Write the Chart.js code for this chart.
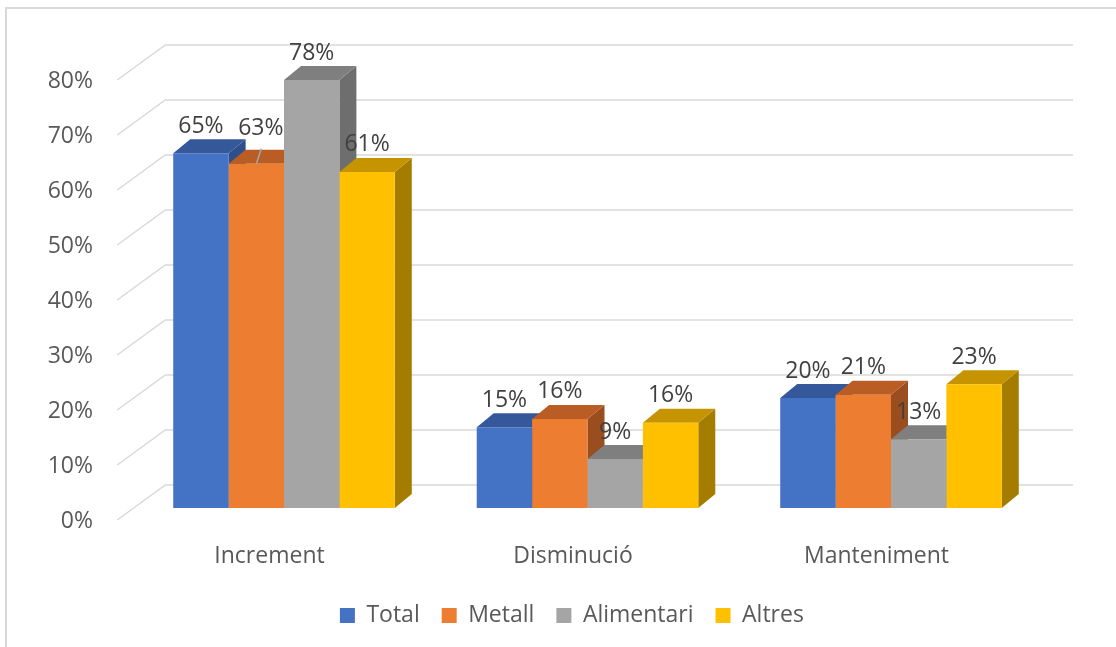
<!DOCTYPE html>
<html>
<head>
<meta charset="utf-8">
<script src="https://cdn.jsdelivr.net/npm/chart.js@4/dist/chart.umd.min.js"></script>
<style>
    html, body { margin: 0; padding: 0; background: #ffffff; overflow: hidden; }
    #marc { position: absolute; left: 5px; top: 7px; width: 1200px; height: 700px; border: 2px solid #d9d9d9; box-sizing: border-box; }
    #caixa { position: absolute; left: 0; top: 0; width: 1116px; height: 647px; }
</style>
</head>
<body>
<div id="marc"></div>
<div id="caixa"><canvas id="graficDemanda"></canvas></div>
<script>
// Dades llegides del gràfic
const categories = ['Increment', 'Disminució', 'Manteniment'];
const sectors = ['Total', 'Metall', 'Alimentari', 'Altres'];
const valorsTotal = [64.5, 14.7, 20.0];
const valorsMetall = [62.6, 16.2, 20.6];
const valorsAlimentari = [77.8, 8.9, 12.5];
const valorsAltres = [61.1, 15.5, 22.5];
const ticksY = [0, 10, 20, 30, 40, 50, 60, 70, 80];

// colors: cara frontal, cara superior, cara lateral
const colors = [
    ['#4472c4', '#34589a', '#2e4f8a'],
    ['#ed7d31', '#b95d24', '#9a4e1f'],
    ['#a5a5a5', '#7f7f7f', '#6e6e6e'],
    ['#ffc000', '#c59400', '#a47c00']
];
const fons = { dx: 17, dy: 14 };       // profunditat de les barres
const paret = { dx: 48, dy: 35 };      // profunditat de la graella
const labelNudge = { '1:0': [4.5, -8.5] };

const valors = [valorsTotal, valorsMetall, valorsAlimentari, valorsAltres];

// graella en perspectiva + cares 3D de les barres
const tresD = {
    id: 'tresD',
    afterLayout(chart) {
        // la llegenda queda centrada sobre la zona del gràfic
        chart.legend.left = 101;
    },
    beforeDatasetsDraw(chart) {
        const ctx = chart.ctx;
        const y = chart.scales.y;
        const area = chart.chartArea;
        ctx.save();
        ctx.strokeStyle = '#d9d9d9';
        ctx.lineWidth = 1.5;
        ticksY.forEach(v => {
            const py = y.getPixelForValue(v);
            const x0 = area.left - 15;
            ctx.beginPath();
            ctx.moveTo(x0, py + 12);
            ctx.lineTo(x0 + paret.dx, py + 12 - paret.dy);
            ctx.lineTo(1073, py + 12 - paret.dy);
            ctx.stroke();
        });

        // d'esquerra a dreta: lateral i superior
        for (let j = 0; j < categories.length; j++) {
            for (let i = 0; i < valors.length; i++) {
                const bar = chart.getDatasetMeta(i).data[j];
                const l = bar.x - bar.width / 2;
                const r = bar.x + bar.width / 2;
                const t = bar.y;
                const b = bar.base;
                ctx.fillStyle = colors[i][2];
                ctx.beginPath();
                ctx.moveTo(r, t);
                ctx.lineTo(r + fons.dx, t - fons.dy);
                ctx.lineTo(r + fons.dx, b - fons.dy);
                ctx.lineTo(r, b);
                ctx.closePath();
                ctx.fill();
                ctx.fillStyle = colors[i][1];
                ctx.beginPath();
                ctx.moveTo(l, t);
                ctx.lineTo(l + fons.dx, t - fons.dy);
                ctx.lineTo(r + fons.dx, t - fons.dy);
                ctx.lineTo(r, t);
                ctx.closePath();
                ctx.fill();
            }
        }
        ctx.restore();
    },
    afterDatasetsDraw(chart) {
        const ctx = chart.ctx;
        ctx.save();
        ctx.font = '23px "Open Sans"';
        ctx.fillStyle = '#404040';
        ctx.textAlign = 'center';
        ctx.textBaseline = 'middle';
        for (let i = 0; i < valors.length; i++) {
            chart.getDatasetMeta(i).data.forEach((bar, j) => {
                const n = labelNudge[i + ':' + j] || [0, 0];
                if (labelNudge[i + ':' + j]) {
                    ctx.strokeStyle = '#a6a6a6';
                    ctx.lineWidth = 1.5;
                    ctx.beginPath();
                    ctx.moveTo(bar.x, bar.y);
                    ctx.lineTo(bar.x + 5, bar.y - 15);
                    ctx.stroke();
                }
                ctx.fillText(Math.round(valors[i][j]) + '%', bar.x + n[0], bar.y - 27 + n[1]);
            });
        }
        ctx.restore();
    }
};

new Chart(document.getElementById('graficDemanda'), {
    type: 'bar',
    data: {
        labels: categories,
        datasets: sectors.map((nom, i) => ({
            label: nom,
            data: valors[i],
            backgroundColor: colors[i][0],
            borderWidth: 0,
            categoryPercentage: 0.73,
            barPercentage: 1
        }))
    },
    plugins: [tresD],
    options: {
        responsive: true,
        maintainAspectRatio: false,
        animation: false,
        layout: {
            padding: { left: 40, right: 73.25, top: 68, bottom: 10 }
        },
        plugins: {
            legend: {
                position: 'bottom',
                labels: {
                    boxWidth: 15,
                    boxHeight: 15,
                    padding: 22,
                    color: '#595959',
                    font: { family: 'Open Sans', size: 23 }
                }
            },
            tooltip: { enabled: false }
        },
        scales: {
            y: {
                min: 0,
                max: 80,
                afterFit: function (scale) { scale.width = 92.25; },
                grid: { display: false, drawTicks: false },
                border: { display: false },
                ticks: {
                    stepSize: 10,
                    padding: 39.25,
                    labelOffset: 13.5,
                    color: '#595959',
                    font: { family: 'Open Sans', size: 23 },
                    callback: v => v + '%'
                }
            },
            x: {
                afterFit: function (scale) { scale.height = 74; },
                grid: { display: false, drawTicks: false },
                border: { display: false },
                ticks: {
                    padding: 35,
                    labelOffset: -14.5,
                    color: '#595959',
                    font: { family: 'Open Sans', size: 23 }
                }
            }
        }
    }
});
</script>
</body>
</html>
